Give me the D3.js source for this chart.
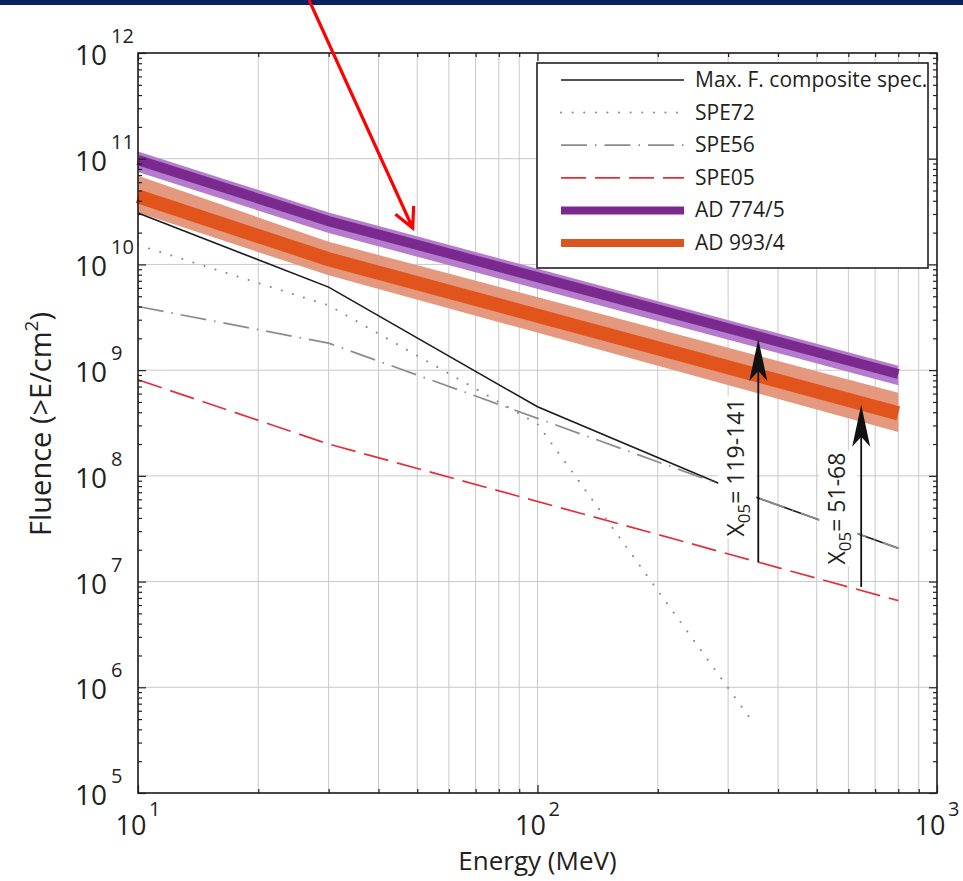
<!DOCTYPE html>
<html>
<head>
<meta charset="utf-8">
<script src="https://cdn.jsdelivr.net/npm/d3@7"></script>
<style>
    body { margin: 0; background: #fff; }
    svg { display: block; }
    text { font-family: "Open Sans", sans-serif; fill: #231f20; }
</style>
</head>
<body>
<div id="chart"></div>
<script>
// ---- data (energy in MeV, fluence >E per cm2) ----
const maxFEnergy = [10, 30, 100, 300, 800];
const maxFFluence = [3.06e10, 6.1e9, 4.5e8, 7.8e7, 2.07e7];

const spe72Energy = [10, 30, 100, 350];
const spe72Fluence = [1.53e10, 4.1e9, 3.1e8, 4.4e5];

const spe56Energy = [10, 30, 100, 300, 800];
const spe56Fluence = [4.0e9, 1.8e9, 3.5e8, 7.8e7, 2.07e7];

const spe05Energy = [10, 30, 800];
const spe05Fluence = [8.1e8, 2.0e8, 6.6e6];

const adEnergy = [10, 30, 800];
const ad774Mid = [9.7e10, 2.57e10, 9.2e8];
const ad774Hi = [1.17e11, 3.1e10, 1.1e9];
const ad774Lo = [7.5e10, 1.98e10, 7.2e8];
const ad993Mid = [4.4e10, 1.12e10, 3.9e8];
const ad993Hi = [6.9e10, 1.64e10, 6.1e8];
const ad993Lo = [3.1e10, 7.9e9, 2.6e8];

// X05 arrows: from SPE05 up to the AD event
const arrowEnergy = [357, 646];
const arrowFrom = [1.53e7, 8.9e6];
const arrowTo = [1.97e9, 4.7e8];
const ratioLabels = ["119-141", "51-68"];
const ratioLabelEnergy = [314, 562];
const ratioLabelFluence = [1.2e8, 4.9e7];

// red call-out arrow (annotation on the slide)
const calloutEnergy = [26.8, 48.7];
const calloutFluence = [3.17e12, 2.21e10];

const legendNames = ["Max. F. composite spec.", "SPE72", "SPE56", "SPE05", "AD 774/5", "AD 993/4"];

const xTicks = [10, 100, 1000];
const yTicks = [1e5, 1e6, 1e7, 1e8, 1e9, 1e10, 1e11, 1e12];

// ---- layout ----
var width = 963,
    height = 881;
var plotL = 138, plotR = 937, plotT = 53, plotB = 793;

var svg = d3.select("#chart").append("svg")
    .attr("width", width)
    .attr("height", height);

// navy band from the slide
svg.append("rect")
    .attr("x", 0).attr("y", 0)
    .attr("width", width).attr("height", 5)
    .attr("fill", "#0a2263");

let x = d3.scaleLog().domain([10, 1000]).range([plotL, plotR]);
let y = d3.scaleLog().domain([1e5, 1e12]).range([plotB, plotT]);

let xMinor = [], yMinor = [];
for (let d = 10; d < 1000; d *= 10) {
    for (let k = 2; k <= 9; k++) xMinor.push(d * k);
}
for (let d = 1e5; d < 1e12; d *= 10) {
    for (let k = 2; k <= 9; k++) yMinor.push(d * k);
}

// grid
let grid = svg.append("g").attr("stroke", "#c9c9c9").attr("stroke-width", 1);
grid.selectAll(".gx").data(xMinor.concat(xTicks)).enter().append("line")
    .attr("x1", d => x(d)).attr("x2", d => x(d))
    .attr("y1", plotT).attr("y2", plotB);
grid.selectAll(".gy").data(yTicks).enter().append("line")
    .attr("x1", plotL).attr("x2", plotR)
    .attr("y1", d => y(d)).attr("y2", d => y(d));

// bands
var area = d3.area()
    .x(d => x(d[0]))
    .y0(d => y(d[2]))
    .y1(d => y(d[1]));
var line = d3.line()
    .x(d => x(d[0]))
    .y(d => y(d[1]));

svg.append("path")
    .attr("d", area(d3.zip(adEnergy, ad993Hi, ad993Lo)))
    .attr("fill", "#e4997e");
svg.append("path")
    .attr("d", line(d3.zip(adEnergy, ad993Mid)))
    .attr("fill", "none")
    .attr("stroke", "#e1541b")
    .attr("stroke-width", 14);

svg.append("path")
    .attr("d", area(d3.zip(adEnergy, ad774Hi, ad774Lo)))
    .attr("fill", "#b47ccb");
svg.append("path")
    .attr("d", line(d3.zip(adEnergy, ad774Mid)))
    .attr("fill", "none")
    .attr("stroke", "#7a2a8e")
    .attr("stroke-width", 10);

// spectra
var styles = [
    { stroke: "#1a1a1a", dash: null, width: 1.6, cap: "butt" },
    { stroke: "#8a8a8a", dash: "0.1,11.5", width: 2, cap: "round" },
    { stroke: "#8c8c8c", dash: "26,8,1.5,8", width: 1.7, cap: "butt" },
    { stroke: "#e2303b", dash: "25,9", width: 1.7, cap: "butt" },
    { stroke: "#7a2a8e", dash: null, width: 8, cap: "butt" },
    { stroke: "#d9561f", dash: null, width: 8, cap: "butt" }
];

function drawSpectrum(energy, fluence, s) {
    svg.append("path")
        .attr("d", line(d3.zip(energy, fluence)))
        .attr("fill", "none")
        .attr("stroke", s.stroke)
        .attr("stroke-width", s.width)
        .attr("stroke-linecap", s.cap)
        .attr("stroke-dasharray", s.dash);
}
drawSpectrum(spe05Energy, spe05Fluence, styles[3]);
drawSpectrum(spe72Energy, spe72Fluence, styles[1]);
drawSpectrum(maxFEnergy, maxFFluence, styles[0]);
drawSpectrum(spe56Energy, spe56Fluence, styles[2]);

// X05 labels with white boxes behind
ratioLabels.forEach(function (lab, i) {
    let g = svg.append("g")
        .attr("transform", "translate(" + x(ratioLabelEnergy[i]) + "," + y(ratioLabelFluence[i]) + ") rotate(-90)");
    let t = g.append("text")
        .attr("text-anchor", "middle")
        .attr("dy", "0.36em")
        .attr("font-size", 23);
    t.append("tspan").text("X");
    t.append("tspan").attr("font-size", 17).attr("dy", 6).text("05");
    t.append("tspan").attr("dy", -6).text("= " + lab);
    let bb = t.node().getBBox();
    g.insert("rect", "text")
        .attr("x", bb.x - 2).attr("y", bb.y - 1)
        .attr("width", bb.width + 4).attr("height", bb.height + 2)
        .attr("fill", "#fff");
});

// black arrows
arrowEnergy.forEach(function (e, i) {
    let ax = x(e), y0 = y(arrowFrom[i]), y1 = y(arrowTo[i]);
    svg.append("line")
        .attr("x1", ax).attr("x2", ax)
        .attr("y1", y0).attr("y2", y1 + 20)
        .attr("stroke", "#111")
        .attr("stroke-width", 1.8);
    svg.append("path")
        .attr("d", "M" + ax + "," + y1 + " L" + (ax + 9) + "," + (y1 + 42) + " L" + ax + "," + (y1 + 32) + " L" + (ax - 9) + "," + (y1 + 42) + "Z")
        .attr("fill", "#111");
});

// axes frame + inward ticks
function tickSet(axis, vals, size) {
    return axis.tickValues(vals).tickSize(size).tickFormat("");
}
[[d3.axisBottom(x), plotB], [d3.axisTop(x), plotT]].forEach(function (a) {
    svg.append("g").attr("transform", "translate(0," + a[1] + ")").call(tickSet(a[0], xTicks, -8)).call(g => g.select(".domain").remove());
    svg.append("g").attr("transform", "translate(0," + a[1] + ")").call(tickSet(a[0], xMinor, -4)).call(g => g.select(".domain").remove());
});
[[d3.axisLeft(y), plotL], [d3.axisRight(y), plotR]].forEach(function (a) {
    svg.append("g").attr("transform", "translate(" + a[1] + ",0)").call(tickSet(a[0], yTicks, -8)).call(g => g.select(".domain").remove());
    svg.append("g").attr("transform", "translate(" + a[1] + ",0)").call(tickSet(a[0], yMinor, -4)).call(g => g.select(".domain").remove());
});
svg.selectAll(".tick line").attr("stroke", "#231f20").attr("stroke-width", 1.2);

svg.append("rect")
    .attr("x", plotL).attr("y", plotT)
    .attr("width", plotR - plotL).attr("height", plotB - plotT)
    .attr("fill", "none")
    .attr("stroke", "#231f20")
    .attr("stroke-width", 1.6);

// tick labels
svg.selectAll(".ylab").data(yTicks).enter().append("text")
    .attr("x", plotL - 31)
    .attr("y", d => y(d) + 12)
    .attr("text-anchor", "end")
    .attr("font-size", 28)
    .text("10");
svg.selectAll(".yexp").data(yTicks).enter().append("text")
    .attr("x", plotL - 27)
    .attr("y", d => y(d) - 10)
    .attr("font-size", 20)
    .text(d => Math.round(Math.log10(d)));

svg.selectAll(".xlab").data(xTicks).enter().append("text")
    .attr("x", d => x(d) - 7)
    .attr("y", plotB + 42)
    .attr("text-anchor", "middle")
    .attr("font-size", 27)
    .text("10");
svg.selectAll(".xexp").data(xTicks).enter().append("text")
    .attr("x", d => x(d) + 11)
    .attr("y", plotB + 23)
    .attr("font-size", 20)
    .text(d => Math.round(Math.log10(d)));

// axis titles
svg.append("text")
    .attr("x", (plotL + plotR) / 2)
    .attr("y", 870)
    .attr("text-anchor", "middle")
    .attr("font-size", 26)
    .text("Energy (MeV)");

let yt = svg.append("text")
    .attr("transform", "translate(51," + 424 + ") rotate(-90)")
    .attr("text-anchor", "middle")
    .attr("font-size", 29);
yt.append("tspan").text("Fluence (>E/cm");
yt.append("tspan").attr("font-size", 19).attr("dy", -13).text("2");
yt.append("tspan").attr("dy", 13).text(")");

// legend
let legend = svg.append("g");
legend.append("rect")
    .attr("x", 537).attr("y", 63)
    .attr("width", 391).attr("height", 205)
    .attr("fill", "#fff")
    .attr("stroke", "#231f20")
    .attr("stroke-width", 1.6);
legendNames.forEach(function (name, i) {
    let ly = 80 + i * 32.6;
    let s = styles[i];
    legend.append("line")
        .attr("x1", 561).attr("x2", 684)
        .attr("y1", ly).attr("y2", ly)
        .attr("stroke", s.stroke)
        .attr("stroke-width", s.width)
        .attr("stroke-linecap", s.cap)
        .attr("stroke-dasharray", s.dash);
    legend.append("text")
        .attr("x", 695)
        .attr("y", ly + 7)
        .attr("font-size", 21)
        .text(name);
});

// red call-out arrow
let c0 = [x(calloutEnergy[0]), y(calloutFluence[0])],
    c1 = [x(calloutEnergy[1]), y(calloutFluence[1])];
let ang = Math.atan2(c0[1] - c1[1], c0[0] - c1[0]);
let barb = 22, spread = 27 * Math.PI / 180;
svg.append("path")
    .attr("d", "M" + c0[0] + "," + c0[1] + " L" + c1[0] + "," + c1[1] +
        " M" + (c1[0] + barb * Math.cos(ang + spread)) + "," + (c1[1] + barb * Math.sin(ang + spread)) +
        " L" + c1[0] + "," + c1[1] +
        " L" + (c1[0] + barb * Math.cos(ang - spread)) + "," + (c1[1] + barb * Math.sin(ang - spread)))
    .attr("fill", "none")
    .attr("stroke", "#ff0000")
    .attr("stroke-width", 3.2)
    .attr("stroke-linejoin", "miter");
</script>
</body>
</html>
